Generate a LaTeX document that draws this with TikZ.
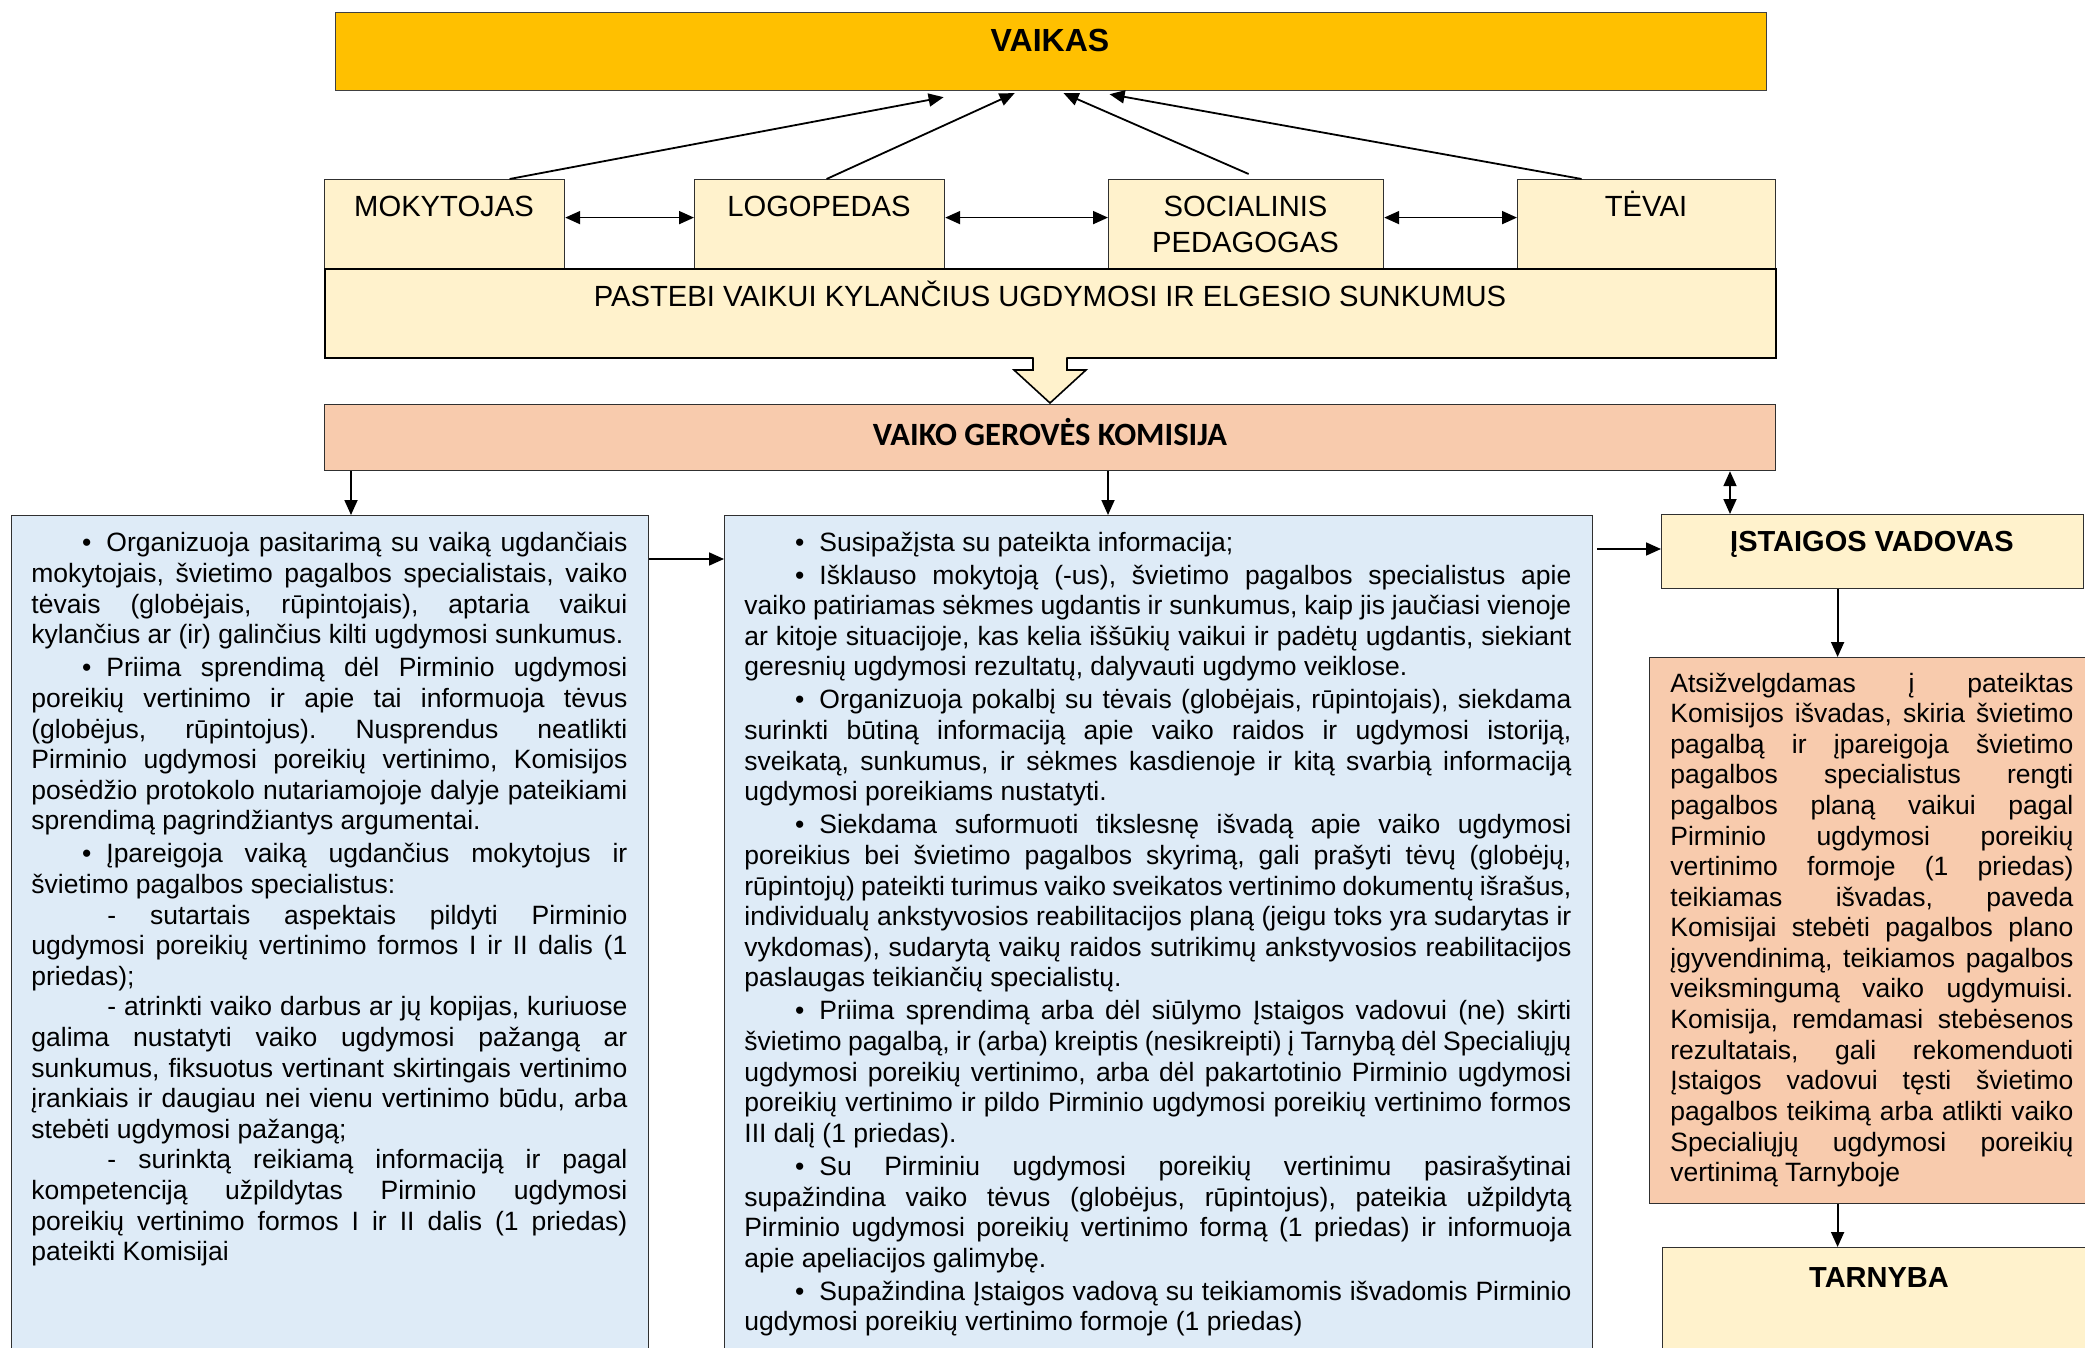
\documentclass[tikz,border=0pt]{standalone}
\usepackage{fontspec}
\setmainfont{Liberation Sans}
\newfontfamily\calibrifont{Carlito}
\usetikzlibrary{arrows.meta,calc}
\definecolor{vkorange}{HTML}{FFC000}
\definecolor{cream}{HTML}{FFF2CC}
\definecolor{salmon}{HTML}{F8CBAD}
\definecolor{paleblue}{HTML}{DEEBF7}
\definecolor{edge}{HTML}{303030}
\newcommand{\bodyset}{\fontsize{13.25}{15.3}\selectfont\frenchspacing
  \spaceskip=0.278em plus 2em minus 0.12em
  \tolerance=10000\hbadness=10000\hfuzz=3pt\hyphenpenalty=10000\exhyphenpenalty=10000
  \parindent=0pt\parskip=0pt}
\newcommand{\mybulfirst}{\hspace*{25.4pt}\makebox[12.1pt][l]{\textbullet}}
\newcommand{\mybul}{\par\vspace{1.25pt}\hspace*{25.4pt}\makebox[12.1pt][l]{\textbullet}}
\newcommand{\mydash}{\par\hspace*{38pt}}
\begin{document}
\begin{tikzpicture}[x=0.5pt, y=-0.5pt,
  box/.style={draw=edge, line width=0.6pt, inner sep=0pt, anchor=north west},
  lbl/.style={inner sep=0pt, anchor=base},
  topfont/.style={font=\fontsize{14.6}{16}\selectfont},
  headfont/.style={font=\bfseries\fontsize{14.5}{16}\selectfont},
  conn/.style={line width=0.9pt, -{Triangle[length=7.5pt,width=6.5pt]}},
  dconn/.style={line width=0.9pt, {Triangle[length=7.5pt,width=6.5pt]}-{Triangle[length=7.5pt,width=6.5pt]}},
  txt/.style={anchor=base west, inner sep=0pt}]
\useasboundingbox (0,0) rectangle (2085,1348);
\clip (0,0) rectangle (2085,1348);

% boxes
\node[box, fill=vkorange, draw=black!75, minimum width=715.5pt, minimum height=39pt] (vaikas) at (335,12) {};
\node[box, fill=cream, minimum width=120pt, minimum height=44.5pt] (mok) at (324,179) {};
\node[box, fill=cream, minimum width=125pt, minimum height=44.5pt] (logo) at (694,179) {};
\node[box, fill=cream, minimum width=137.5pt, minimum height=44.5pt] (soc) at (1108,179) {};
\node[box, fill=cream, minimum width=129pt, minimum height=44.5pt] (tev) at (1517,179) {};
\node[box, fill=cream, draw=black, line width=1.1pt, minimum width=725.5pt, minimum height=44.5pt] (past) at (324,268) {};
\node[box, fill=salmon, minimum width=725.5pt, minimum height=33pt] (vgk) at (324,404) {};
\node[box, fill=paleblue, minimum width=318.5pt, minimum height=430pt] (lbox) at (11,515) {};
\node[box, fill=paleblue, minimum width=434pt, minimum height=430pt] (mbox) at (724,515) {};
\node[box, fill=cream, minimum width=211pt, minimum height=37pt] (ist) at (1661,514) {};
\node[box, fill=salmon, minimum width=222pt, minimum height=273pt] (sal) at (1649,657) {};
\node[box, fill=cream, minimum width=220pt, minimum height=60pt] (tar) at (1662,1247) {};

% block arrow
\fill[cream] (1033,353) -- (1033,370) -- (1014,370) -- (1050,403) -- (1086,370) -- (1067,370) -- (1067,353) -- cycle;
\draw[line width=0.8pt, line join=miter] (1033,357.5) -- (1033,370) -- (1014,370) -- (1050,403) -- (1086,370) -- (1067,370) -- (1067,357.5);

% labels
\node[lbl, font=\bfseries\fontsize{16}{18}\selectfont] (vaikasT) at (1050,52) {VAIKAS};
\node[lbl, topfont] (mokT) at (444,217) {MOKYTOJAS};
\node[lbl, topfont] (logoT) at (819,217) {LOGOPEDAS};
\node[lbl, topfont] (socT1) at (1245.5,217) {SOCIALINIS};
\node[lbl, topfont] (socT2) at (1245.5,253) {PEDAGOGAS};
\node[lbl, topfont] (tevT) at (1646,217) {TĖVAI};
\node[lbl, topfont] (pastT) at (1050,307) {PASTEBI VAIKUI KYLANČIUS UGDYMOSI IR ELGESIO SUNKUMUS};
\node[lbl, font=\calibrifont\bfseries\fontsize{16.25}{18}\selectfont] (vgkT) at (1050,445) {VAIKO GEROVĖS KOMISIJA};
\node[lbl, headfont] (istT) at (1872,552) {ĮSTAIGOS VADOVAS};
\node[lbl, headfont] (tarT) at (1879,1287) {TARNYBA};

% body texts
\node[txt] (lboxT) at (31,552) {\parbox[t]{298pt}{\bodyset
\mybulfirst Organizuoja pasitarimą su vaiką ugdančiais\linebreak
mokytojais, švietimo pagalbos specialistais, vaiko\linebreak
tėvais (globėjais, rūpintojais), aptaria vaikui\linebreak
kylančius ar (ir) galinčius kilti ugdymosi sunkumus.
\mybul Priima sprendimą dėl Pirminio ugdymosi\linebreak
poreikių vertinimo ir apie tai informuoja tėvus\linebreak
(globėjus, rūpintojus). Nusprendus neatlikti\linebreak
Pirminio ugdymosi poreikių vertinimo, Komisijos\linebreak
posėdžio protokolo nutariamojoje dalyje pateikiami\linebreak
sprendimą pagrindžiantys argumentai.
\mybul Įpareigoja vaiką ugdančius mokytojus ir\linebreak
švietimo pagalbos specialistus:
\mydash - sutartais aspektais pildyti Pirminio\linebreak
ugdymosi poreikių vertinimo formos I ir II dalis (1\linebreak
priedas);
\mydash - atrinkti vaiko darbus ar jų kopijas, kuriuose\linebreak
galima nustatyti vaiko ugdymosi pažangą ar\linebreak
sunkumus, fiksuotus vertinant skirtingais vertinimo\linebreak
įrankiais ir daugiau nei vienu vertinimo būdu, arba\linebreak
stebėti ugdymosi pažangą;
\mydash - surinktą reikiamą informaciją ir pagal\linebreak
kompetenciją užpildytas Pirminio ugdymosi\linebreak
poreikių vertinimo formos I ir II dalis (1 priedas)\linebreak
pateikti Komisijai}};

\node[txt] (mboxT) at (744,551) {\parbox[t]{413.5pt}{\bodyset
\mybulfirst Susipažįsta su pateikta informacija;
\mybul Išklauso mokytoją (-us), švietimo pagalbos specialistus apie\linebreak
vaiko patiriamas sėkmes ugdantis ir sunkumus, kaip jis jaučiasi vienoje\linebreak
ar kitoje situacijoje, kas kelia iššūkių vaikui ir padėtų ugdantis, siekiant\linebreak
geresnių ugdymosi rezultatų, dalyvauti ugdymo veiklose.
\mybul Organizuoja pokalbį su tėvais (globėjais, rūpintojais), siekdama\linebreak
surinkti būtiną informaciją apie vaiko raidos ir ugdymosi istoriją,\linebreak
sveikatą, sunkumus, ir sėkmes kasdienoje ir kitą svarbią informaciją\linebreak
ugdymosi poreikiams nustatyti.
\mybul Siekdama suformuoti tikslesnę išvadą apie vaiko ugdymosi\linebreak
poreikius bei švietimo pagalbos skyrimą, gali prašyti tėvų (globėjų,\linebreak
rūpintojų) pateikti turimus vaiko sveikatos vertinimo dokumentų išrašus,\linebreak
individualų ankstyvosios reabilitacijos planą (jeigu toks yra sudarytas ir\linebreak
vykdomas), sudarytą vaikų raidos sutrikimų ankstyvosios reabilitacijos\linebreak
paslaugas teikiančių specialistų.
\mybul Priima sprendimą arba dėl siūlymo Įstaigos vadovui (ne) skirti\linebreak
švietimo pagalbą, ir (arba) kreiptis (nesikreipti) į Tarnybą dėl Specialiųjų\linebreak
ugdymosi poreikių vertinimo, arba dėl pakartotinio Pirminio ugdymosi\linebreak
poreikių vertinimo ir pildo Pirminio ugdymosi poreikių vertinimo formos\linebreak
III dalį (1 priedas).
\mybul Su Pirminiu ugdymosi poreikių vertinimu pasirašytinai\linebreak
supažindina vaiko tėvus (globėjus, rūpintojus), pateikia užpildytą\linebreak
Pirminio ugdymosi poreikių vertinimo formą (1 priedas) ir informuoja\linebreak
apie apeliacijos galimybę.
\mybul Supažindina Įstaigos vadovą su teikiamomis išvadomis Pirminio\linebreak
ugdymosi poreikių vertinimo formoje (1 priedas)}};

\node[txt] (salT) at (1670,692) {\parbox[t]{201.5pt}{\bodyset
Atsižvelgdamas į pateiktas\linebreak
Komisijos išvadas, skiria švietimo\linebreak
pagalbą ir įpareigoja švietimo\linebreak
pagalbos specialistus rengti\linebreak
pagalbos planą vaikui pagal\linebreak
Pirminio ugdymosi poreikių\linebreak
vertinimo formoje (1 priedas)\linebreak
teikiamas išvadas, paveda\linebreak
Komisijai stebėti pagalbos plano\linebreak
įgyvendinimą, teikiamos pagalbos\linebreak
veiksmingumą vaiko ugdymuisi.\linebreak
Komisija, remdamasi stebėsenos\linebreak
rezultatais, gali rekomenduoti\linebreak
Įstaigos vadovui tęsti švietimo\linebreak
pagalbos teikimą arba atlikti vaiko\linebreak
Specialiųjų ugdymosi poreikių\linebreak
vertinimą Tarnyboje}};

% top connectors
\coordinate (t1) at ([xshift=-53.75pt,yshift=-3pt]vaikas.south);
\coordinate (t2) at ([xshift=-18.25pt,yshift=-1pt]vaikas.south);
\coordinate (t3) at ([xshift=6.25pt,yshift=-1pt]vaikas.south);
\coordinate (t4) at ([xshift=29.25pt,yshift=-1.5pt]vaikas.south);
\draw[conn] ([xshift=32.5pt]mok.north) -- (t1);
\draw[conn] ([xshift=3.5pt]logo.north) -- (t2);
\draw[conn] ([xshift=1.25pt,yshift=2.5pt]soc.north) -- (t3);
\draw[conn] ([xshift=-32.5pt]tev.north) -- (t4);

\coordinate (d1) at ([yshift=3.25pt]mok.east);
\draw[dconn] (d1) -- (d1 -| logo.west);
\coordinate (d2) at ([yshift=3.25pt]logo.east);
\draw[dconn] (d2) -- (d2 -| soc.west);
\coordinate (d3) at ([yshift=3.25pt]soc.east);
\draw[dconn] (d3) -- (d3 -| tev.west);

% lower connectors
\coordinate (c1) at ([xshift=13.5pt]vgk.south west);
\draw[conn] (c1) -- (c1 |- lbox.north);
\coordinate (c2) at ([xshift=392pt]vgk.south west);
\draw[conn] (c2) -- (c2 |- mbox.north);
\coordinate (c3) at ([xshift=703pt]vgk.south west);
\draw[dconn] (c3) -- (c3 |- ist.north);
\coordinate (c4) at ([yshift=-22pt]lbox.north east);
\draw[conn] (c4) -- (c4 -| mbox.west);
\coordinate (c5) at ([xshift=2pt,yshift=-17pt]mbox.north east);
\draw[conn] (c5) -- (c5 -| ist.west);
\coordinate (c6) at ([xshift=-17.5pt]ist.south);
\draw[conn] (c6) -- (c6 |- sal.north);
\coordinate (c7) at (c6 |- sal.south);
\draw[conn] (c7) -- (c7 |- tar.north);
\end{tikzpicture}
\end{document}
